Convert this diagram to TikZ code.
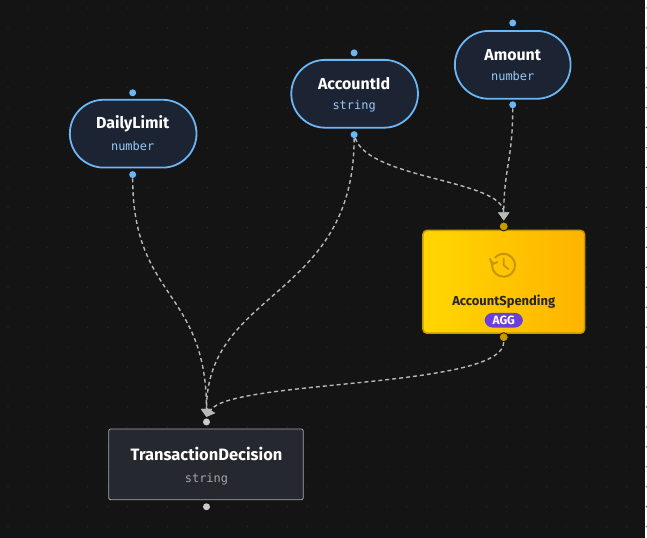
\documentclass[tikz,border=0pt]{standalone}
\usepackage{fontspec}
\setmainfont{Fira Sans}
\newfontfamily\monof{DejaVu Sans Mono}
\usetikzlibrary{arrows.meta,shapes.geometric,shadings}
\definecolor{bg}{HTML}{141414}
\definecolor{inbg}{HTML}{1C2333}
\definecolor{inbd}{HTML}{6BB6F5}
\definecolor{edge}{HTML}{B8B8B8}
\definecolor{gold}{HTML}{C89A00}
\definecolor{ya}{HTML}{FFD600}
\definecolor{yb}{HTML}{FFB400}
\definecolor{agg}{HTML}{6B3FD9}
\definecolor{tdbg}{HTML}{262830}
\begin{document}
\begin{tikzpicture}[x=1pt,y=-1pt,
 inp/.style={draw=inbd,line width=1.8pt,fill=inbg,rounded corners=34pt},
 ttl/.style={text=white,font=\fontsize{16}{18}\selectfont\bfseries},
 typ/.style={text=inbd!70!white,font=\monof\fontsize{12}{14}\selectfont},
 bdot/.style={circle,fill=inbd,inner sep=0pt,minimum size=7pt},
 ydot/.style={circle,fill=gold,draw=bg,line width=0.8pt,inner sep=0pt,minimum size=9pt},
 gdot/.style={circle,fill=gray!40,inner sep=0pt,minimum size=7pt},
 edg/.style={draw=edge,line width=1.4pt,dash pattern=on 4pt off 3pt},
 tip/.style={-{Triangle[width=11pt,length=8pt,fill=edge]}}]
\fill[bg] (0,0) rectangle (647,539);
\foreach \i in {0,...,32}{\foreach \j in {0,...,26}{\fill[white!12!bg] (\i*20+8,\j*20+8) circle (0.6pt);}}
% nodes
\draw[inp] (70,100) rectangle (197,168);
\node[ttl] (dl) at (133,124) {DailyLimit};
\node[typ] (dlt) at (133,146) {number};
\draw[inp] (292,60) rectangle (419,128);
\node[ttl] (ai) at (355,84) {AccountId};
\node[typ] (ait) at (355,106) {string};
\draw[inp] (456,31) rectangle (572,99);
\node[ttl] (am) at (514,55) {Amount};
\node[typ] (amt) at (514,76) {number};
\shade[left color=ya,right color=yb,rounded corners=4pt] (424,231) rectangle (586,334);
\draw[gold,rounded corners=4pt,line width=1.5pt] (424,231) rectangle (586,334);
\draw[gold!80!brown,line width=2pt] (494,262) arc (200:-140:11.5);
\draw[gold!80!brown,line width=1.8pt] (493.5,265) -- (491,259) (493.5,265) -- (499,262.5);
\draw[gold!80!brown,line width=1.8pt] (505,258.5) -- (505,266) -- (510,270);
\node[text=black!85,font=\fontsize{13}{15}\selectfont\bfseries] (as) at (505,302) {AccountSpending};
\node[fill=agg,text=white,rounded corners=8pt,font=\fontsize{12}{13}\selectfont\bfseries,inner xsep=8pt,inner ysep=3pt] (ag) at (505,321) {AGG};
\draw[draw=gray!70,fill=tdbg,rounded corners=2pt,line width=0.8pt] (109,430) rectangle (304,501);
\node[ttl,font=\fontsize{16.5}{18}\selectfont\bfseries] (td) at (207,455) {TransactionDecision};
\node[typ,text=gray!70] (tdt) at (207,480) {string};
% dots
\node[bdot] (dl0) at (133,93) {}; \node[bdot] (dl1) at (133,175) {};
\node[bdot] (ai0) at (355,53) {}; \node[bdot] (ai1) at (355,135) {};
\node[bdot] (am0) at (514,23) {}; \node[bdot] (am1) at (514,105) {};
\node[ydot] (as0) at (505,227) {}; \node[ydot] (as1) at (505,338) {};
\node[gdot] (td0) at (207,423) {}; \node[gdot] (td1) at (207,508) {};
\coordinate (asin) at (505,221);
\coordinate (tdin) at (207,418);
% edges
\draw[edg,tip] (dl1) .. controls (133,300) and (207,290) .. (tdin);
\draw[edg,tip] (ai1) .. controls (355,300) and (207,290) .. (tdin);
\draw[edg,tip] (ai1) .. controls (370,180) and (505,180) .. (asin);
\draw[edg,tip] (am1) .. controls (514,160) and (505,170) .. (asin);
\draw[edg,tip] (as1) .. controls (505,390) and (230,380) .. (tdin);
\end{tikzpicture}
\end{document}
